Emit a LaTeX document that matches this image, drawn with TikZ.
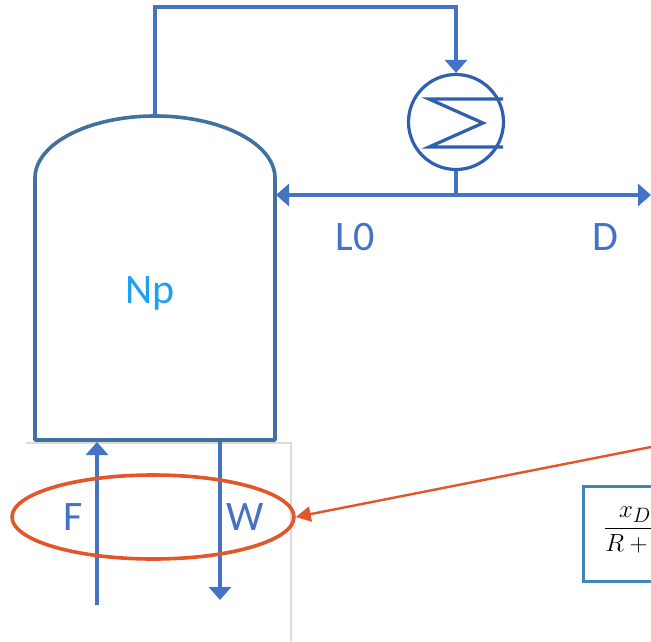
\documentclass[tikz,border=0pt]{standalone}
\usepackage{fontspec}
\setmainfont{Carlito}
\usetikzlibrary{arrows.meta,shapes.geometric}
\definecolor{lineblue}{HTML}{4472C4}
\definecolor{vesselblue}{HTML}{41719C}
\definecolor{condblue}{HTML}{2F5FAF}
\definecolor{npblue}{HTML}{1EA0F0}
\definecolor{orangered}{HTML}{E2562A}
\definecolor{boxblue}{HTML}{3F87B8}
\definecolor{gridgray}{HTML}{DADADA}
\begin{document}
\begin{tikzpicture}[x=1pt,y=-1pt,
  pipe/.style={draw=lineblue,line width=3.2pt},
  tip/.style={-{Triangle[width=22pt,length=13pt]}},
  lbl/.style={text=lineblue,font=\fontsize{42}{46}\selectfont,inner sep=0pt},
]
\useasboundingbox (0,0) rectangle (651,641);
\fill[white] (0,0) rectangle (651,641);
% faint guide lines
\draw[gridgray,line width=1.4pt] (26,443) -- (291,443) -- (291,641);
% vessel
\coordinate (vtop) at (155,116);
\draw[vesselblue,line width=3.6pt,fill=white,line join=round]
  (35,440) -- (35,178) arc[start angle=180,end angle=360,x radius=120,y radius=62]
  -- (275,440) -- cycle;
\node[lbl,text=npblue] (np) at (150,293) {Np};
% condenser
\node[circle,draw=condblue,line width=3.2pt,minimum size=95pt,inner sep=0pt] (cond) at (456,122) {};
\draw[condblue,line width=3.2pt,line join=miter] (503,99) -- (429,99) -- (483,123) -- (429,147) -- (503,147);
% vapour line
\coordinate (c1) at (155,7);
\coordinate (c2) at (456,7);
\draw[pipe,tip,line join=miter] (vtop) -- (c1) -- (c2) -- (cond.north);
% reflux / distillate
\coordinate (j) at (456,195);
\coordinate (vs) at (276,195);
\coordinate (dout) at (651,195);
\draw[pipe] (cond.south) -- (j);
\draw[pipe,tip] (j) -- (vs);
\draw[pipe,tip] (j) -- (dout);
\node[lbl] (l0) at (355,237) {L0};
\node[lbl] (d) at (605,237) {D};
% feed and bottoms
\coordinate (fin) at (97,605);
\coordinate (fv) at (97,442);
\coordinate (wv) at (220,442);
\coordinate (wout) at (220,600);
\draw[pipe,tip] (fin) -- (fv);
\draw[pipe,tip] (wv) -- (wout);
\node[lbl] (f) at (73,517) {F};
\node[lbl] (w) at (245,517) {W};
% highlight ellipse
\node[ellipse,draw=orangered,line width=3.6pt,minimum width=282pt,minimum height=84pt,inner sep=0pt] (ell) at (153,517) {};
\coordinate (oa) at (651,447);
\draw[orangered,line width=2.4pt,-{Triangle[width=15pt,length=15pt]}] (oa) -- (ell.east);
% formula box
\node[draw=boxblue,line width=3.4pt,fill=white,anchor=north west,minimum width=140pt,minimum height=95pt,inner sep=0pt] (box) at (582,485) {};
\node[anchor=base west,inner sep=0pt,font=\fontsize{30}{34}\selectfont] (frm) at (604,534) {$\displaystyle\frac{x_D}{R+1}$};
\end{tikzpicture}
\end{document}
